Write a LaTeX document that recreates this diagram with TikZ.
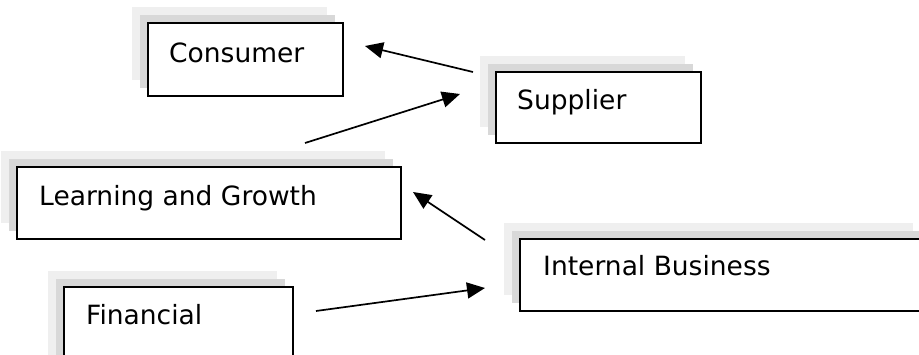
\documentclass[tikz,border=0pt]{standalone}
\usepackage{fontspec}
\setmainfont{DejaVu Sans}
\usetikzlibrary{arrows.meta,calc}
\definecolor{shadeA}{HTML}{EFEFEF}
\definecolor{shadeB}{HTML}{D8D8D8}
\tikzset{
  bigtip/.tip={Triangle[length=18pt,width=16pt]},
  link/.style={line width=1.7pt, arrows={-bigtip}}
}
\begin{document}
\begin{tikzpicture}[
  % white box with two stacked grey layers behind it, up and to the left
  layered/.style={draw=black, line width=1.6pt, fill=white, rectangle,
    inner sep=0pt, outer sep=0pt, anchor=north west,
    preaction={fill=shadeA, draw=none, transform canvas={shift={(-16pt,16pt)}}},
    preaction={fill=shadeB, draw=none, transform canvas={shift={(-8pt,8pt)}}}},
  caption/.style={anchor=base west, inner sep=0pt,
    font=\fontsize{26.5}{30}\selectfont}]
  \begin{scope}[x=1pt,y=-1pt]
  \useasboundingbox (0,0) rectangle (919,355);
  \clip (0,0) rectangle (919,355);

  % boxes
  \node[layered, minimum width=195pt, minimum height=73pt] (consumer) at (148,23) {};
  \node[layered, minimum width=205pt, minimum height=71pt] (supplier) at (496,72) {};
  \node[layered, minimum width=384pt, minimum height=72pt] (learning) at (17,167) {};
  \node[layered, minimum width=409pt, minimum height=72pt] (internal) at (520,239) {};
  \node[layered, minimum width=229pt, minimum height=90pt] (financial) at (64,287) {};

  % captions
  \node[caption] (tconsumer)  at ($(consumer.north west)+(21,40)$)  {Consumer};
  \node[caption] (tsupplier)  at ($(supplier.north west)+(21,38)$)  {Supplier};
  \node[caption] (tlearning)  at ($(learning.north west)+(22,39)$)  {Learning and Growth};
  \node[caption] (tinternal)  at ($(internal.north west)+(23,37)$)  {Internal Business};
  \node[caption] (tfinancial) at ($(financial.north west)+(22,38)$) {Financial};

  % arrow end points
  \coordinate (s1) at (473,72);  \coordinate (e1) at (365,46);
  \coordinate (s2) at (305,143); \coordinate (e2) at (460,94);
  \coordinate (s3) at (485,240); \coordinate (e3) at (413,192);
  \coordinate (s4) at (316,311); \coordinate (e4) at (485,288);
  \end{scope}

  % arrows
  \draw[link] (s1) -- (e1);
  \draw[link] (s2) -- (e2);
  \draw[link] (s3) -- (e3);
  \draw[link] (s4) -- (e4);
\end{tikzpicture}
\end{document}
